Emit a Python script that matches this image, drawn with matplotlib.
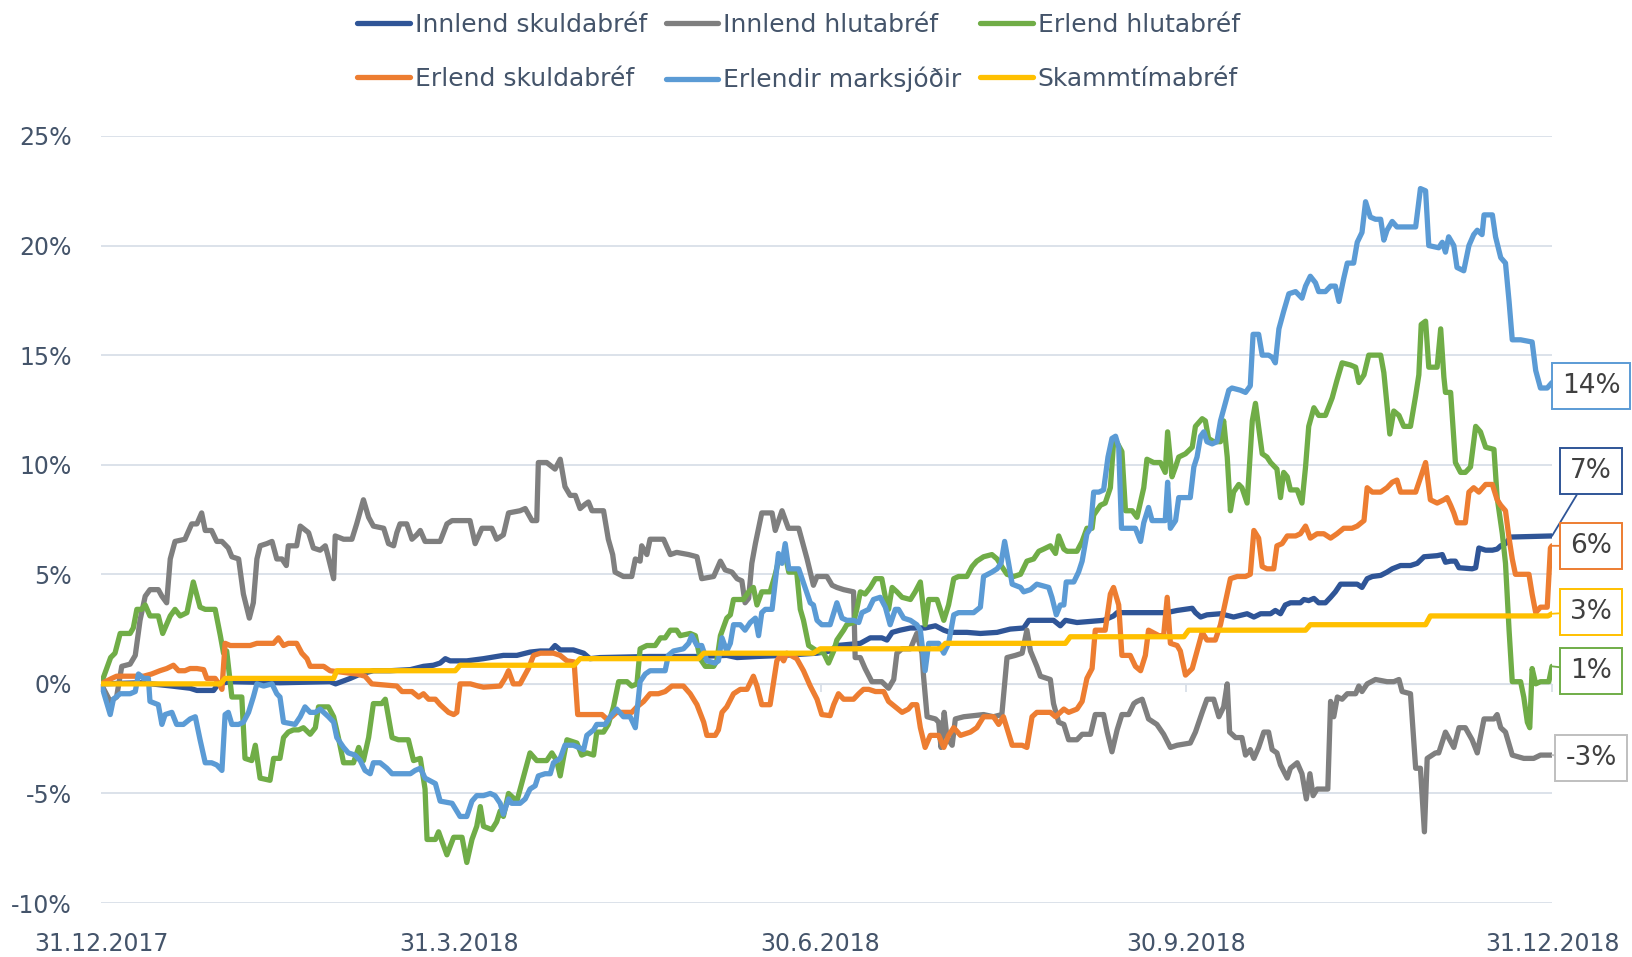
import matplotlib.pyplot as plt
import pandas as pd

start = pd.Timestamp('2017-12-31')
tick_labels = ['31.12.2017', '31.3.2018', '30.6.2018', '30.9.2018', '31.12.2018']
y_ticks = [-10, -5, 0, 5, 10, 15, 20, 25]

names = ['Innlend skuldabréf', 'Innlend hlutabréf', 'Erlend hlutabréf',
         'Erlend skuldabréf', 'Erlendir marksjóðir', 'Skammtímabréf']
colors = ['#2f5597', '#7f7f7f', '#70ad47', '#ed7d31', '#5b9bd5', '#ffc000']
box_edges = ['#2f5597', '#bfbfbf', '#70ad47', '#ed7d31', '#5b9bd5', '#ffc000']

# (days since 31.12.2017, return %)
innlend_skuld = [
    (0, 0), (10, 0.05), (17.8, -0.1), (22.4, -0.2), (24.1, -0.3), (28.3, -0.3), (29.5, 0), (32.5, 0.1),
    (45, 0.05), (57.6, 0.1), (59, 0), (62.7, 0.25), (65.2, 0.45), (68.5, 0.6), (72.7, 0.6), (77.8, 0.65),
    (81.1, 0.8), (83.6, 0.85), (85.3, 0.95), (86.6, 1.15), (87.8, 1.05), (92, 1.05), (96.2, 1.15),
    (101.2, 1.3), (104.6, 1.3), (107.9, 1.45), (110.5, 1.5), (113, 1.5), (114.2, 1.75), (115.5, 1.55),
    (118.8, 1.55), (121.4, 1.4), (123, 1.15), (125.5, 1.2), (138, 1.25), (150, 1.25), (157.4, 1.3),
    (160, 1.2), (165, 1.25), (171.7, 1.3), (175.9, 1.35), (180.1, 1.4), (183.4, 1.5), (185.1, 1.75),
    (191, 1.85), (193.5, 2.1), (196.4, 2.1), (197.7, 2.0), (199, 2.35), (201, 2.45), (203.6, 2.55),
    (207.3, 2.55), (209.9, 2.65), (212, 2.45), (213.6, 2.35), (217.8, 2.35), (221.2, 2.3), (225.4, 2.35),
    (228.7, 2.5), (232.1, 2.55), (233.4, 2.9), (239.6, 2.9), (241.3, 2.65), (242.6, 2.9), (245.5, 2.8),
    (252.2, 2.9), (254.7, 3.1), (255.6, 3.25), (268, 3.25), (270.7, 3.35), (274.5, 3.45), (275.3, 3.25),
    (276.6, 3.05), (278.2, 3.15), (281.6, 3.2), (284.9, 3.05), (288.3, 3.2), (290, 3.05), (291.7, 3.2),
    (294.2, 3.2), (295.4, 3.35), (296.7, 3.2), (297.9, 3.6), (299.2, 3.7), (301.7, 3.7), (302.6, 3.85),
    (303.8, 3.8), (305.1, 3.9), (306.3, 3.7), (308, 3.7), (309.3, 3.95), (310.5, 4.2), (311.8, 4.55),
    (316, 4.55), (317.2, 4.4), (318.5, 4.8), (319.8, 4.9), (321.9, 4.95), (323.5, 5.1), (324.8, 5.25),
    (326.9, 5.4), (329.4, 5.4), (331.1, 5.5), (332.8, 5.8), (336.1, 5.85), (337.4, 5.9), (338.2, 5.55),
    (339.5, 5.6), (340.7, 5.6), (341.6, 5.3), (344.9, 5.25), (345.8, 5.3), (346.6, 6.2), (348.3, 6.1),
    (350, 6.1), (351.2, 6.15), (352.1, 6.3), (353.3, 6.4), (354.6, 6.7), (365, 6.75),
]

innlend_hluta = [
    (0, 0), (2.3, -0.8), (3.9, -0.6), (5.2, 0.8), (7.3, 0.9), (8.6, 1.3), (9.8, 2.9), (11.1, 4.0),
    (12.3, 4.3), (14.4, 4.3), (15.3, 4.0), (16.5, 3.7), (17.4, 5.7), (18.6, 6.5), (21.1, 6.6), (22.8, 7.3),
    (24.1, 7.3), (25.3, 7.8), (26.2, 7.0), (27.8, 7.0), (29.1, 6.5), (30.4, 6.5), (32.0, 6.2), (32.9, 5.8),
    (34.6, 5.7), (35.8, 4.1), (37.3, 3.0), (38.3, 3.7), (39.2, 5.7), (40.0, 6.3), (41.7, 6.4), (43.0, 6.5),
    (44.2, 5.7), (45.5, 5.7), (46.6, 5.4), (47.1, 6.3), (49.2, 6.3), (50.1, 7.2), (52.2, 6.9), (53.4, 6.2),
    (55.1, 6.1), (56.4, 6.3), (57.0, 5.9), (58.5, 4.8), (58.9, 6.75), (61.0, 6.6), (63.1, 6.6), (64.3, 7.3),
    (66.0, 8.4), (67.3, 7.6), (68.5, 7.2), (71.1, 7.1), (72.3, 6.4), (73.6, 6.3), (74.4, 6.9), (75.2, 7.3),
    (76.9, 7.3), (78.2, 6.6), (79.4, 6.8), (80.3, 7.0), (81.5, 6.5), (85.3, 6.5), (87.0, 7.3), (88.3, 7.45),
    (92.8, 7.45), (94.1, 6.4), (95.8, 7.1), (98.3, 7.1), (99.5, 6.6), (101.2, 6.8), (102.5, 7.8),
    (105.4, 7.9), (106.7, 8.0), (108.4, 7.45), (109.6, 7.45), (110.0, 10.1), (112.1, 10.1), (114.2, 9.8),
    (115.5, 10.25), (116.7, 9.0), (118.0, 8.6), (119.3, 8.6), (120.5, 8.0), (121.8, 8.2), (122.6, 8.3),
    (123.5, 7.9), (126.4, 7.9), (127.6, 6.6), (128.7, 5.9), (129.3, 5.1), (131.4, 4.9), (133.5, 4.9),
    (134.4, 5.7), (135.6, 5.6), (136.0, 6.3), (137.3, 5.9), (138.1, 6.6), (141.5, 6.6), (143.2, 5.9),
    (144.8, 6.0), (147.8, 5.9), (149.9, 5.8), (151.1, 4.8), (154.1, 4.9), (155.8, 5.6), (157.0, 5.2),
    (158.7, 5.1), (160.0, 4.8), (161.2, 4.7), (162.0, 3.7), (162.9, 3.9), (163.7, 5.5), (164.6, 6.4),
    (166.2, 7.8), (168.8, 7.8), (169.6, 7.0), (171.3, 7.9), (172.9, 7.1), (175.5, 7.1), (177.6, 5.7),
    (179.2, 4.5), (180.1, 4.9), (182.6, 4.9), (183.9, 4.5), (185.1, 4.4), (186.8, 4.3), (189.3, 4.2),
    (189.7, 1.2), (191.0, 1.2), (192.2, 0.7), (193.9, 0.1), (196.4, 0.1), (198.1, -0.2), (199.4, 0.2),
    (200.2, 1.4), (201.5, 1.6), (203.6, 1.6), (205.2, 2.3), (206.5, 1.4), (206.9, 0.35), (207.8, -1.5),
    (209.9, -1.6), (210.7, -1.75), (211.3, -2.9), (212.1, -1.3), (212.8, -2.45), (214.1, -2.8),
    (214.9, -1.6), (217.0, -1.5), (222.0, -1.4), (224.5, -1.5), (226.6, -1.4), (227.9, 1.2), (230.0, 1.3),
    (231.7, 1.4), (232.9, 2.45), (233.8, 1.5), (235.4, 0.8), (236.3, 0.35), (238.8, 0.2), (239.6, -0.9),
    (240.9, -1.75), (242.2, -1.85), (243.4, -2.55), (245.5, -2.55), (246.8, -2.3), (248.9, -2.3),
    (250.1, -1.4), (252.2, -1.4), (253.1, -2.2), (254.3, -3.1), (255.6, -2.1), (256.8, -1.4), (258.5, -1.4),
    (259.8, -0.9), (260.6, -0.8), (261.9, -0.7), (263.5, -1.6), (265.6, -1.85), (267.3, -2.3), (269.0, -2.9),
    (270.7, -2.8), (274.0, -2.7), (275.3, -2.2), (277.0, -1.3), (278.2, -0.7), (279.9, -0.7), (281.2, -1.5),
    (282.4, -1.05), (283.3, 0.0), (283.9, -2.2), (285.4, -2.45), (287.0, -2.45), (287.9, -3.25),
    (289.1, -3.0), (290.0, -3.4), (291.2, -2.9), (292.5, -2.2), (293.7, -2.2), (294.6, -3.0), (295.8, -3.15),
    (296.7, -3.7), (298.4, -4.3), (299.2, -3.85), (300.9, -3.6), (302.1, -4.1), (303.2, -5.25), (304.1, -4.1),
    (304.9, -5.1), (305.9, -4.8), (308.6, -4.8), (309.3, -0.8), (310.1, -1.5), (311.0, -0.6), (312.2, -0.7),
    (313.5, -0.45), (315.6, -0.45), (316.4, -0.1), (317.2, -0.35), (318.5, 0.0), (320.6, 0.2), (323.5, 0.1),
    (325.2, 0.1), (326.5, 0.2), (327.3, -0.35), (329.4, -0.45), (330.7, -3.85), (331.9, -3.85),
    (332.9, -6.75), (333.6, -3.4), (335.7, -3.15), (336.5, -3.15), (338.2, -2.2), (340.3, -2.9),
    (341.6, -2.0), (343.2, -2.0), (344.9, -2.55), (346.2, -3.15), (347.9, -1.6), (350.4, -1.6),
    (351.2, -1.4), (352.1, -2.0), (353.3, -2.2), (355.0, -3.25), (357.9, -3.4), (360.4, -3.4),
    (362.1, -3.25), (365.0, -3.25),
]

erlend_hluta = [
    (0, 0), (2.4, 1.2), (3.5, 1.4), (4.8, 2.3), (7.3, 2.3), (8.1, 2.55), (9.0, 3.4), (10.2, 3.4),
    (11.1, 3.6), (12.3, 3.1), (14.4, 3.1), (15.5, 2.3), (17.4, 3.1), (18.6, 3.4), (19.9, 3.1), (21.6, 3.25),
    (23.2, 4.65), (24.9, 3.5), (26.2, 3.4), (28.7, 3.4), (30.0, 2.2), (30.8, 1.4), (31.6, 1.5), (32.9, -0.6),
    (35.4, -0.6), (36.2, -3.4), (37.9, -3.5), (38.8, -2.8), (40.0, -4.3), (42.5, -4.4), (43.4, -3.4),
    (45.0, -3.4), (45.9, -2.45), (47.1, -2.2), (48.4, -2.1), (49.7, -2.1), (50.9, -2.0), (52.6, -2.3),
    (53.9, -2.0), (54.7, -1.05), (57.2, -1.05), (58.5, -1.5), (59.7, -2.45), (61.0, -3.6), (63.5, -3.6),
    (64.8, -2.9), (66.0, -3.5), (67.3, -2.45), (68.5, -0.9), (70.6, -0.9), (71.5, -0.7), (73.2, -2.45),
    (74.8, -2.55), (77.3, -2.55), (78.6, -3.5), (80.3, -3.4), (81.5, -4.8), (82.0, -7.1), (84.1, -7.1),
    (84.9, -6.75), (87.0, -7.8), (88.7, -7.0), (90.8, -7.0), (92.0, -8.15), (93.3, -7.1), (94.5, -6.5),
    (95.4, -5.6), (96.2, -6.5), (98.3, -6.65), (99.5, -6.3), (100.4, -5.8), (101.2, -6.05), (102.5, -5.0),
    (104.6, -5.35), (105.8, -4.55), (107.9, -3.15), (109.6, -3.5), (112.1, -3.5), (113.4, -3.15),
    (114.6, -3.5), (115.5, -4.2), (116.3, -3.4), (117.2, -2.55), (119.7, -2.7), (120.9, -3.25),
    (122.2, -3.15), (123.9, -3.25), (124.7, -2.2), (126.4, -2.2), (127.6, -1.85), (128.9, -1.05),
    (130.2, 0.1), (132.3, 0.1), (133.5, -0.1), (134.8, 0.0), (135.6, 1.6), (137.3, 1.75), (139.4, 1.75),
    (140.7, 2.1), (141.9, 2.1), (143.2, 2.45), (144.8, 2.45), (145.7, 2.2), (148.2, 2.3), (149.5, 2.2),
    (150.7, 1.15), (152.0, 0.8), (154.1, 0.8), (154.9, 1.05), (155.8, 2.2), (157.4, 3.0), (158.3, 3.15),
    (159.1, 3.85), (161.6, 3.85), (162.9, 4.2), (164.1, 4.4), (165.0, 3.6), (166.2, 4.2), (168.3, 4.2),
    (169.6, 5.0), (170.4, 5.6), (172.1, 5.9), (173.0, 5.1), (175.0, 5.1), (175.9, 3.4), (176.7, 2.9),
    (178.0, 1.75), (180.1, 1.5), (181.8, 1.4), (183.0, 0.95), (184.3, 1.5), (185.1, 2.0), (186.8, 2.45),
    (187.6, 2.7), (189.3, 2.8), (190.1, 3.4), (191.0, 4.2), (192.2, 4.1), (193.5, 4.4), (194.8, 4.8),
    (196.4, 4.8), (197.3, 3.95), (198.1, 3.4), (199.0, 4.4), (200.2, 4.2), (201.5, 3.95), (203.6, 3.85),
    (204.8, 4.2), (206.1, 4.65), (207.3, 2.7), (208.2, 3.85), (210.3, 3.85), (211.1, 3.4), (212.0, 2.9),
    (213.2, 3.6), (214.5, 4.8), (215.7, 4.9), (217.8, 4.9), (219.1, 5.35), (220.3, 5.6), (222.0, 5.8),
    (224.1, 5.9), (225.4, 5.7), (226.6, 5.35), (227.9, 5.0), (229.6, 4.9), (231.3, 5.0), (232.9, 5.6),
    (234.6, 5.7), (235.9, 6.05), (237.1, 6.15), (238.8, 6.3), (240.1, 5.95), (240.9, 6.75), (242.2, 6.15),
    (243.0, 6.05), (245.5, 6.05), (246.8, 6.5), (248.0, 7.1), (249.3, 7.1), (249.7, 7.7), (251.4, 8.15),
    (252.6, 8.25), (253.9, 8.95), (254.7, 11.0), (255.6, 11.0), (256.8, 10.6), (257.7, 7.9), (259.4, 7.9),
    (260.6, 7.6), (262.3, 8.95), (263.1, 10.25), (264.8, 10.1), (266.5, 10.1), (267.7, 9.65), (268.3, 11.5),
    (269.4, 9.45), (270.3, 9.9), (271.1, 10.35), (272.8, 10.5), (274.5, 10.8), (275.3, 11.75), (277.0, 12.1),
    (277.8, 12.0), (278.6, 11.2), (279.9, 11.05), (281.6, 11.05), (282.4, 12.0), (283.3, 10.35), (284.1, 7.9),
    (284.9, 8.75), (286.2, 9.1), (287.0, 8.95), (288.3, 8.25), (289.6, 12.0), (290.4, 12.8), (292.1, 10.5),
    (293.3, 10.35), (294.2, 10.1), (295.8, 9.8), (296.7, 8.5), (297.5, 9.65), (298.4, 9.45), (299.2, 8.85),
    (300.9, 8.85), (302.1, 8.25), (303.0, 9.9), (303.8, 11.75), (305.1, 12.6), (306.3, 12.25), (308.0, 12.25),
    (309.7, 13.05), (310.9, 13.85), (312.2, 14.65), (314.3, 14.55), (315.6, 14.45), (316.4, 13.75),
    (317.7, 14.1), (318.9, 15.0), (321.9, 15.0), (322.7, 14.2), (323.5, 12.7), (324.2, 11.4), (325.2, 12.45),
    (326.5, 12.25), (327.7, 11.75), (329.4, 11.75), (330.7, 13.15), (331.5, 14.1), (332.1, 16.4),
    (333.2, 16.55), (334.0, 14.45), (336.1, 14.45), (337.0, 16.2), (337.8, 14.0), (338.2, 13.3),
    (339.5, 13.3), (340.7, 10.1), (342.0, 9.65), (343.2, 9.65), (344.5, 9.9), (345.8, 11.75), (347.0, 11.5),
    (348.3, 10.8), (350.4, 10.7), (351.2, 8.5), (352.5, 6.85), (353.3, 5.5), (354.2, 2.45), (355.0, 0.1),
    (357.1, 0.1), (357.9, -0.6), (358.8, -1.75), (359.4, -2.0), (360.0, 0.7), (360.9, 0.0), (362.1, 0.1),
    (364.2, 0.1), (365.0, 0.8),
]

erlend_skuld = [
    (0, 0), (2.7, 0.25), (3.9, 0.35), (10.7, 0.35), (12.7, 0.45), (14.8, 0.6), (16.5, 0.7), (18.2, 0.85),
    (19.5, 0.6), (21.1, 0.6), (22.4, 0.7), (24.1, 0.7), (25.8, 0.65), (26.6, 0.25), (28.7, 0.25),
    (30.0, -0.1), (30.4, -0.25), (31.2, 1.85), (32.5, 1.75), (37.5, 1.75), (39.2, 1.85), (43.4, 1.85),
    (44.6, 2.1), (45.9, 1.75), (47.1, 1.85), (49.2, 1.85), (50.5, 1.4), (51.8, 1.15), (52.6, 0.8),
    (56.0, 0.8), (57.6, 0.6), (64.3, 0.45), (66.4, 0.35), (68.1, 0.0), (74.4, -0.1), (75.7, -0.35),
    (78.2, -0.35), (79.9, -0.6), (81.1, -0.45), (82.4, -0.7), (84.1, -0.7), (85.3, -0.95), (87.4, -1.3),
    (88.7, -1.4), (89.5, -1.3), (90.3, 0.0), (92.9, 0.0), (94.9, -0.1), (96.2, -0.15), (100.4, -0.1),
    (101.6, 0.25), (102.5, 0.6), (103.7, 0.0), (105.4, 0.0), (107.5, 0.7), (108.8, 1.3), (110.5, 1.4),
    (113.8, 1.4), (115.5, 1.3), (117.2, 1.05), (119.0, 1.0), (119.9, -1.4), (126.0, -1.4), (127.2, -1.6),
    (128.5, -1.5), (129.7, -1.3), (133.5, -1.3), (134.8, -1.05), (136.5, -0.8), (138.1, -0.45),
    (140.2, -0.45), (141.9, -0.35), (143.6, -0.1), (146.5, -0.1), (148.2, -0.45), (149.9, -0.95),
    (151.6, -1.75), (152.4, -2.35), (154.5, -2.35), (155.3, -2.1), (156.2, -1.3), (157.4, -1.05),
    (159.1, -0.45), (160.8, -0.25), (162.5, -0.25), (164.1, 0.35), (165.0, -0.1), (166.2, -0.95),
    (168.3, -0.95), (169.2, 0.1), (170.0, 1.05), (170.9, 1.3), (171.7, 1.05), (172.5, 1.4), (175.0, 1.15),
    (176.7, 0.6), (178.4, -0.1), (180.1, -0.7), (181.3, -1.4), (183.4, -1.45), (184.3, -0.95),
    (185.5, -0.45), (186.8, -0.7), (189.3, -0.7), (190.6, -0.45), (191.8, -0.25), (193.1, -0.25),
    (194.8, -0.35), (196.9, -0.35), (198.1, -0.8), (199.8, -1.05), (201.5, -1.3), (203.1, -1.15),
    (204.0, -0.95), (205.2, -0.95), (206.1, -2.0), (207.3, -2.9), (208.6, -2.35), (210.7, -2.35),
    (212.0, -2.9), (213.2, -2.35), (214.5, -2.0), (216.2, -2.35), (218.7, -2.2), (220.3, -2.0),
    (222.0, -1.5), (224.5, -1.5), (225.8, -1.85), (227.0, -1.5), (229.2, -2.8), (231.7, -2.8),
    (232.9, -2.9), (234.2, -1.5), (235.4, -1.3), (238.8, -1.3), (240.1, -1.5), (242.2, -1.15),
    (243.4, -1.3), (245.5, -1.15), (246.8, -0.8), (248.0, 0.25), (249.3, 0.7), (250.1, 2.45), (252.6, 2.45),
    (253.9, 4.1), (254.7, 4.4), (256.0, 3.6), (256.8, 1.3), (258.9, 1.3), (260.2, 0.8), (261.5, 0.6),
    (262.7, 1.3), (263.5, 2.45), (266.1, 2.2), (267.3, 2.2), (268.2, 3.95), (269.0, 1.85), (270.7, 1.75),
    (271.5, 1.5), (272.8, 0.4), (274.5, 0.7), (275.7, 1.5), (277.0, 2.35), (278.2, 2.0), (280.3, 2.0),
    (281.6, 2.7), (282.8, 3.7), (284.1, 4.8), (285.8, 4.9), (287.9, 4.9), (289.1, 5.0), (290.0, 7.0),
    (291.2, 6.65), (292.1, 5.35), (293.3, 5.25), (295.0, 5.25), (295.8, 6.3), (297.1, 6.4), (298.4, 6.75),
    (300.5, 6.75), (301.7, 6.85), (303.0, 7.2), (304.2, 6.65), (305.9, 6.85), (307.6, 6.85), (309.3, 6.65),
    (310.9, 6.85), (312.6, 7.1), (314.7, 7.1), (316.0, 7.2), (317.7, 7.45), (318.5, 8.95), (319.8, 8.75),
    (321.9, 8.75), (323.5, 8.95), (324.8, 9.2), (326.0, 9.3), (326.9, 8.75), (330.7, 8.75), (331.9, 9.4),
    (333.2, 10.1), (334.4, 8.4), (336.1, 8.25), (337.8, 8.4), (338.6, 8.5), (339.5, 8.15), (340.3, 7.8),
    (341.1, 7.35), (343.2, 7.35), (344.1, 8.75), (345.3, 8.95), (346.6, 8.75), (348.3, 9.1), (350.0, 9.1),
    (351.2, 8.4), (352.1, 8.15), (353.3, 7.9), (354.2, 6.65), (355.0, 5.7), (355.8, 5.0), (359.2, 5.0),
    (360.0, 4.1), (360.9, 3.25), (362.1, 3.5), (363.8, 3.5), (364.6, 6.2), (365.0, 6.3),
]

erlendir_marks = [
    (0, 0), (2.3, -1.4), (3.1, -0.7), (4.8, -0.45), (7.3, -0.45), (8.6, -0.35), (9.4, 0.45), (10.7, 0.25),
    (11.9, 0.25), (12.3, -0.8), (14.4, -0.95), (15.3, -1.85), (16.1, -1.4), (17.8, -1.3), (19.0, -1.85),
    (20.7, -1.85), (22.4, -1.6), (23.7, -1.5), (24.9, -2.55), (26.2, -3.6), (27.8, -3.6), (29.1, -3.7),
    (30.4, -3.95), (31.2, -1.4), (32.0, -1.3), (32.9, -1.85), (34.6, -1.85), (35.8, -1.75), (37.1, -1.3),
    (38.3, -0.6), (39.2, 0.0), (40.9, -0.1), (43.0, 0.0), (44.2, -0.45), (45.0, -0.6), (45.9, -1.75),
    (48.8, -1.85), (50.1, -1.5), (51.3, -1.05), (52.6, -1.3), (53.9, -1.3), (55.1, -1.15), (56.0, -1.3),
    (57.2, -1.5), (58.5, -1.75), (59.3, -2.45), (61.0, -2.9), (62.2, -3.15), (63.9, -3.25), (65.2, -3.5),
    (66.4, -3.95), (67.7, -4.1), (68.5, -3.6), (70.2, -3.6), (71.9, -3.85), (73.2, -4.1), (77.8, -4.1),
    (79.0, -3.95), (80.3, -3.85), (81.5, -4.3), (84.1, -4.55), (85.3, -5.35), (88.3, -5.45), (90.3, -6.05),
    (92.0, -6.05), (93.3, -5.35), (94.5, -5.1), (96.2, -5.1), (97.9, -5.0), (99.1, -5.1), (100.4, -5.45),
    (101.2, -5.95), (102.5, -5.25), (103.3, -5.45), (105.4, -5.45), (106.7, -5.25), (107.9, -4.8),
    (109.2, -4.65), (110.0, -4.2), (111.7, -4.1), (113.0, -4.1), (113.8, -3.6), (115.5, -3.4), (116.7, -2.8),
    (118.8, -2.8), (120.1, -2.9), (121.4, -3.0), (122.2, -2.35), (123.9, -2.1), (124.7, -1.85),
    (126.8, -1.85), (128.1, -1.5), (129.7, -1.15), (131.4, -1.5), (133.1, -1.5), (134.4, -2.0), (135.6, 0.1),
    (136.9, 0.45), (138.1, 0.6), (141.9, 0.6), (142.7, 1.3), (144.0, 1.5), (146.5, 1.6), (147.8, 1.85),
    (148.6, 2.2), (149.9, 1.75), (151.1, 1.75), (152.4, 1.05), (154.5, 0.95), (155.3, 1.05), (156.2, 2.1),
    (157.4, 1.5), (158.3, 1.85), (159.1, 2.7), (160.8, 2.7), (162.0, 2.45), (163.3, 2.8), (164.6, 3.0),
    (165.4, 2.2), (166.2, 3.25), (167.1, 3.4), (168.8, 3.4), (169.6, 4.65), (170.4, 5.95), (171.3, 5.5),
    (172.1, 6.4), (173.0, 5.25), (175.5, 5.25), (177.1, 4.4), (178.4, 3.7), (179.2, 3.6), (180.1, 2.9),
    (181.3, 2.7), (183.4, 2.7), (185.1, 3.7), (186.4, 3.0), (187.6, 2.9), (189.3, 2.9), (190.6, 2.8),
    (191.4, 3.25), (193.1, 3.4), (194.3, 3.85), (196.0, 3.95), (197.3, 3.5), (198.5, 2.7), (199.8, 3.4),
    (200.6, 3.4), (201.9, 3.0), (203.6, 2.9), (205.2, 2.7), (206.1, 2.45), (207.3, 0.6), (208.2, 1.85),
    (210.7, 1.85), (212.0, 1.4), (213.2, 1.85), (214.5, 3.15), (215.7, 3.25), (219.5, 3.25), (221.2, 3.5),
    (222.0, 4.9), (224.1, 5.1), (225.4, 5.25), (226.4, 5.5), (227.3, 6.5), (228.3, 5.5), (229.2, 4.55),
    (231.3, 4.4), (232.1, 4.2), (233.8, 4.3), (235.4, 4.55), (238.4, 4.4), (239.2, 3.95), (240.3, 3.15),
    (241.3, 3.6), (242.2, 3.6), (242.8, 4.65), (244.7, 4.65), (245.9, 5.1), (246.8, 5.6), (248.0, 6.85),
    (248.9, 7.1), (249.7, 8.75), (251.0, 8.75), (252.2, 8.85), (253.3, 10.35), (254.3, 11.2), (255.2, 11.3),
    (256.0, 10.8), (256.7, 7.1), (258.1, 7.1), (260.2, 7.1), (261.5, 6.5), (262.3, 7.35), (263.5, 8.05),
    (264.4, 7.45), (266.1, 7.45), (267.7, 7.45), (268.3, 9.2), (269.0, 7.1), (270.3, 7.45), (271.1, 8.5),
    (272.4, 8.5), (274.0, 8.5), (274.9, 9.9), (275.7, 10.35), (276.6, 11.3), (277.4, 11.5), (278.2, 11.05),
    (279.5, 10.95), (280.7, 11.05), (281.6, 12.0), (282.8, 12.8), (283.7, 13.4), (284.5, 13.5),
    (286.6, 13.4), (287.9, 13.3), (289.1, 13.6), (289.8, 15.95), (291.2, 15.95), (292.1, 15.0),
    (293.7, 15.0), (294.6, 14.9), (295.4, 14.65), (296.3, 16.2), (297.5, 17.0), (298.8, 17.8), (300.5, 17.9),
    (302.1, 17.6), (303.0, 18.15), (304.2, 18.6), (305.5, 18.3), (306.3, 17.9), (308.0, 17.9), (309.3, 18.15),
    (310.5, 18.15), (311.4, 17.45), (312.6, 18.5), (313.5, 19.2), (315.1, 19.2), (316.0, 20.15),
    (317.2, 20.6), (318.1, 22.0), (319.3, 21.3), (320.6, 21.2), (321.9, 21.2), (322.7, 20.25), (323.5, 20.7),
    (324.8, 21.1), (326.0, 20.85), (330.7, 20.85), (331.9, 22.6), (333.2, 22.5), (334.0, 20.0),
    (336.5, 19.9), (337.4, 20.15), (338.2, 19.7), (339.0, 20.4), (340.3, 20.0), (341.1, 19.0),
    (342.8, 18.85), (344.1, 20.0), (345.3, 20.5), (346.2, 20.7), (347.4, 20.5), (347.9, 21.4), (350.0, 21.4),
    (350.8, 20.4), (352.1, 19.45), (353.3, 19.2), (354.2, 17.45), (355.0, 15.7), (357.1, 15.7), (360.0, 15.6),
    (360.9, 14.3), (362.1, 13.5), (363.8, 13.5), (365.0, 13.75),
]

skammtima = [
    (0, 0), (30, 0), (31.2, 0.25), (58.5, 0.25), (59.3, 0.6), (89.1, 0.6), (90.3, 0.85), (119, 0.85),
    (120.5, 1.15), (150.3, 1.15), (151.6, 1.4), (179.2, 1.4), (180.9, 1.6), (211.1, 1.6), (212.4, 1.85),
    (242.6, 1.85), (243.8, 2.15), (272.4, 2.15), (273.6, 2.45), (303, 2.45), (304.2, 2.7), (333.2, 2.7),
    (334.4, 3.1), (364, 3.1), (365, 3.2),
]

series = [innlend_skuld, innlend_hluta, erlend_hluta, erlend_skuld, erlendir_marks, skammtima]
label_y = [9.7, -3.4, 0.6, 6.3, 13.6, 3.3]   # where the end-value boxes sit

text_col = '#44546a'
grid_col = '#d9dfe8'

fig = plt.figure(figsize=(16.33, 9.57), dpi=100)
ax = fig.add_axes([0.0619, 0.0564, 0.8885, 0.8015])

lines = []
for name, col, ec, pts, ly in zip(names, colors, box_edges, series, label_y):
    d = [p[0] for p in pts]
    v = [p[1] for p in pts]
    ln, = ax.plot(d, v, color=col, lw=3.8, label=name,
                  solid_joinstyle='round', solid_capstyle='round', zorder=3)
    lines.append(ln)
    ax.annotate(f'{round(v[-1])}%', xy=(d[-1], v[-1]), xytext=(374.8, ly),
                ha='center', va='center', fontsize=19, color='#404040',
                bbox=dict(boxstyle='square,pad=0.38', fc='white', ec=ec, lw=1.4),
                arrowprops=dict(arrowstyle='-', color=ec, lw=1.3, shrinkA=0, shrinkB=0),
                annotation_clip=False, zorder=5)

ax.set_xlim(0, 365)
ax.set_ylim(-10, 25)
ax.set_yticks(y_ticks)
ax.set_yticklabels([f'{t}%' for t in y_ticks])
ax.tick_params(axis='y', length=0, pad=21, labelsize=17, labelcolor=text_col)
ax.yaxis.grid(True, color=grid_col, lw=1.3, zorder=0)
ax.set_axisbelow(True)
for s in ['top', 'right', 'left']:
    ax.spines[s].set_visible(False)

tick_days = [(pd.to_datetime(t, format='%d.%m.%Y') - start).days for t in tick_labels]
ax.spines['bottom'].set_position(('data', 0))
ax.spines['bottom'].set_color(grid_col)
ax.set_xticks(tick_days)
ax.tick_params(axis='x', length=6, width=1.3, color=grid_col, labelbottom=False)

sec = ax.secondary_xaxis('bottom')
sec.set_xticks(tick_days)
sec.set_xticklabels(tick_labels)
sec.tick_params(length=0, pad=21, labelsize=17, labelcolor=text_col)
sec.spines['bottom'].set_visible(False)

order = [0, 3, 1, 4, 2, 5]
fig.legend([lines[i] for i in order], [names[i] for i in order], ncol=3,
           loc='upper left', bbox_to_anchor=(0.205, 1.01), frameon=False,
           prop={'size': 18}, labelcolor=text_col, handlelength=2.1,
           handletextpad=0.2, columnspacing=0.75, labelspacing=1.2)

fig.savefig('out.png', dpi=100)
